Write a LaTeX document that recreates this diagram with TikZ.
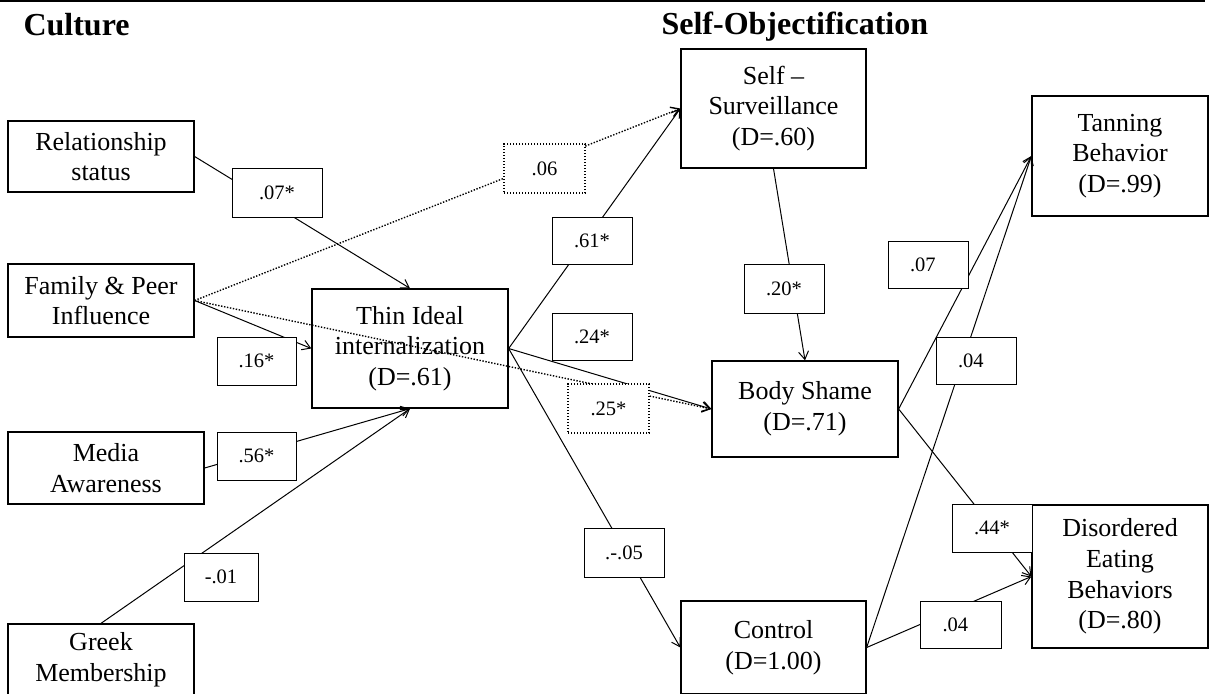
\documentclass[tikz,border=0pt]{standalone}
\usepackage{fontspec}
\setmainfont{Liberation Serif}
\usetikzlibrary{arrows.meta}
\begin{document}
\begin{tikzpicture}[x=1pt,y=-1pt,
  var/.style={draw,line width=1.3pt,align=center,inner sep=2pt,
    font=\fontsize{26}{30.7}\selectfont},
  wt/.style={draw,fill=white,line width=1pt,inner sep=1pt,
    font=\fontsize{20.5}{24}\selectfont},
  wtdot/.style={wt,line width=1.4pt,dash pattern=on 1.4pt off 1.6pt},
  link/.style={line width=1pt,-{Straight Barb[length=8pt,width=10pt]}},
  dotlink/.style={link,line width=1.4pt,dash pattern=on 1.4pt off 1.6pt}]
\useasboundingbox (0,0) rectangle (1209,693);
%\draw[step=50,gray,very thin] (0,0) grid (1209,693);
\draw[line width=2pt] (0,1) -- (1205,1);
\node[anchor=base west,font=\bfseries\fontsize{32}{36}\selectfont] (culture) at (20,36) {Culture};
\node[anchor=base west,font=\bfseries\fontsize{32}{36}\selectfont] (selfobj) at (658,35) {Self-Objectification};
% culture variables
\node[var,minimum width=186,minimum height=71] (rel) at (101,156.5) {Relationship\\status};
\node[var,minimum width=186,minimum height=73] (fam) at (101,300.5) {Family \& Peer\\Influence};
\node[var,minimum width=196,minimum height=72] (media) at (106,468) {Media\\Awareness};
\node[var,minimum width=186,minimum height=72] (greek) at (101,660) {Greek\\Membership};
\node[var,minimum width=196,minimum height=119] (thin) at (410,348.5) {Thin Ideal\\internalization\\(D=.61)};
% self-objectification and outcomes
\node[var,minimum width=185,minimum height=119] (surv) at (773.5,108.5) {Self --\\Surveillance\\(D=.60)};
\node[var,minimum width=186,minimum height=96] (shame) at (805,409) {Body Shame\\(D=.71)};
\node[var,minimum width=185,minimum height=93] (ctrl) at (773.5,647.5) {Control\\(D=1.00)};
\node[var,minimum width=176,minimum height=120] (tan) at (1120,156) {Tanning\\Behavior\\(D=.99)};
\node[var,minimum width=176,minimum height=143] (eat) at (1120,576.5) {Disordered\\Eating\\Behaviors\\(D=.80)};
% paths
\draw[link] (rel.east) -- (thin.north);
\draw[link] (fam.east) -- (thin.west);
\draw[link] (media.east) -- (thin.south);
\draw[link] (greek.north) -- (thin.south);
\draw[dotlink] (fam.east) -- (surv.west);
\draw[dotlink] (fam.east) -- (shame.west);
\draw[link] (thin.east) -- (surv.west);
\draw[link] (thin.east) -- (shame.west);
\draw[link] (thin.east) -- (ctrl.west);
\draw[link] (surv.south) -- (shame.north);
\draw[link] (shame.east) -- (tan.west);
\draw[link] (ctrl.east) -- (tan.west);
\draw[link] (shame.east) -- (eat.west);
\draw[link] (ctrl.east) -- (eat.west);
% path weights
\node[wt,minimum width=90,minimum height=49] (w1) at (277,192.5) {.07*};
\node[wt,minimum width=79,minimum height=48] (w2) at (256.5,361) {.16*};
\node[wt,minimum width=79,minimum height=48] (w3) at (256.5,456) {.56*};
\node[wt,minimum width=74,minimum height=48] (w4) at (221,577) {-.01};
\node[wtdot,minimum width=81,minimum height=49] (w5) at (544.5,168.5) {.06};
\node[wt,minimum width=80,minimum height=47] (w6) at (592,240.5) {.61*};
\node[wt,minimum width=80,minimum height=47] (w7) at (592,336.5) {.24*};
\node[wtdot,minimum width=81,minimum height=49] (w8) at (608.5,408.5) {.25*};
\node[wt,minimum width=80,minimum height=49] (w9) at (624,552.5) {.-.05};
\node[wt,minimum width=80,minimum height=49] (w10) at (784,288.5) {.20*};
\node[wt,minimum width=80,minimum height=47] (w11) at (928,264.5) {.07\hphantom{*}};
\node[wt,minimum width=80,minimum height=47] (w12) at (976,360.5) {.04\hphantom{*}};
\node[wt,minimum width=80,minimum height=48] (w13) at (992,528) {.44*};
\node[wt,minimum width=81,minimum height=47] (w14) at (960.5,624.5) {.04\hphantom{*}};
\end{tikzpicture}
\end{document}
